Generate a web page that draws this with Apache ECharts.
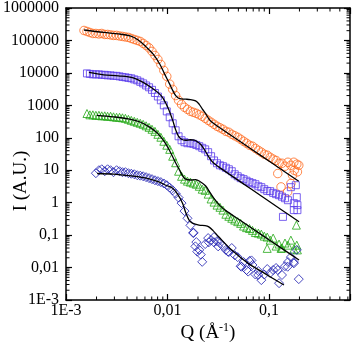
<!DOCTYPE html>
<html><head><meta charset="utf-8">
<script src="https://cdn.jsdelivr.net/npm/echarts@6/dist/echarts.min.js"></script>
<style>html,body{margin:0;padding:0;background:#fff}#c{width:357px;height:345px}</style>
</head><body><div id="c"></div>
<script>
// ---- axis ranges and tick labels ----
const Q_MIN = 0.001, Q_MAX = 0.63;
const I_MIN = 0.001, I_MAX = 1000000;
const qTickLabels = {'-3':'1E-3','-2':'0,01','-1':'0,1'};
const iTickLabels = {'6':'1000000','5':'100000','4':'10000','3':'1000','2':'100','1':'10','0':'1','-1':'0,1','-2':'0,01','-3':'1E-3'};

// ---- measured Q grid (Å^-1) shared by the four curves ----
const qGrid = [0.00161,0.00172,0.00184,0.00197,0.00211,0.00225,0.00241,0.00257,0.00275,0.00294,0.00315,0.00337,0.0036,0.00385,0.00412,0.0044,0.00471,0.00504,
0.00539,0.00576,0.00616,0.00659,0.00704,0.00753,0.00805,0.00861,0.00921,0.00985,0.01053,0.01126,0.01204,0.01287,
0.01377,0.01472,0.01574,0.01684,0.018,0.01925,0.02059,0.02201,0.02354,0.02518,0.02692,0.02879,0.03079,0.03293,
0.03521,0.03765,0.04027,0.04305,0.04604,0.04924,0.05266,0.0563,0.06021,0.06438,0.06886,0.07362,0.07873,0.08418,
0.09003,0.09627,0.1029,0.1101,0.1177,0.1259,0.1346,0.144,0.154,0.1646,0.1761,0.1883];

// ---- orange circles ----
const orangeI = [189000,176000,164000,164000,159000,164000,153000,153000,148000,143000,143000,137000,133000,128000,124000,115000,107000,100000,
93000,81000,70000,59000,46000,34500,26000,18200,11900,7800,4500,3100,2000,1430,
1070,870,753,654,609,567,510,459,398,345,300,260,226,203,
183,158,148,128,115,104,90,78,68,59,55,47,41,36,
31,29,25,22,20,16.4,16.4,13.3,17.6,14.2,17.6,15.3];
const orangeExtraQ = [0.001505,0.1317,0.153,0.1646,0.178,0.191,0.1223,0.171,0.197];
const orangeExtraI = [203000,3.06,2.15,3.9,10,8.9,7.9,7.0,14.2];

// ---- purple squares ----
const purpleI = [9650,9300,9000,9000,9000,8700,8700,8400,8400,8100,8100,7800,7500,7300,7000,6800,6300,5900,
5300,4750,4100,3600,3000,2400,1870,1430,1000,650,430,280,170,111,
84,73,68,68,65,60,55,49,44,36,27,20,16.4,14.2,
13.3,11.9,10.7,9.3,7.5,6.5,5.7,5.3,4.75,4.3,4.0,3.7,3.2,3.0,
2.6,2.3,2.26,2.0,1.83,1.7,1.53,1.37,1.19,3.0,0.965,1.48];
const purpleExtraQ = [0.1376,0.191,0.1842,0.1761,0.191];
const purpleExtraI = [0.365,0.588,3.45,0.59,0.84];

// ---- green triangles ----
const greenI = [560,510,510,492,492,475,475,460,460,443,428,428,413,398,371,345,322,300,
280,260,234,210,183,158,128,104,78,59,44,27,17,9.3,
6.5,5.3,4.6,4.3,4.0,3.7,3.2,2.6,2.4,1.83,1.3,1.04,0.84,0.72,
0.59,0.44,0.38,0.33,0.29,0.26,0.23,0.19,0.17,0.16,0.14,0.12,0.115,0.107,
0.093,0.087,0.07,0.081,0.046,0.053,0.04,0.057,0.049,0.07,0.037,0.049];
const greenExtraQ = [0.1866,0.191,0.0962,0.1316];
const greenExtraI = [0.203,0.035,0.039,0.039];

// ---- navy diamonds (start at 4th grid point) ----
const navyI = [8.1,10,10.7,9.3,10.7,10,8.7,10,9.3,8.7,8.7,8.1,7.8,7.5,7.0,
6.8,6.5,6.1,5.7,5.3,4.9,4.6,4.3,3.9,3.45,2.9,2.4,1.9,1.43,
0.97,0.55,0.33,0.2,0.115,0.061,0.035,0.015,0.053,0.081,0.07,0.087,0.065,0.057,
0.046,0.035,0.03,0.04,0.024,0.021,0.011,0.0148,0.0084,0.016,0.012,0.0061,0.0078,0.0041,
0.0061,0.009,0.0068,0.0084,0.0097,0.0033,0.0059,0.011,0.0148,0.021,0.0148,0.035];
const navyExtraQ = [0.018,0.01968,0.0395,0.05384,0.0673,0.0625,0.0785,0.1223,0.153,0.1761,0.197,0.01885,0.0213,0.02557,0.0288,0.0316];
const navyExtraI = [0.12,0.031,0.031,0.0106,0.0166,0.0075,0.0059,0.0084,0.0106,0.0135,0.0044,0.045,0.025,0.06,0.06,0.045];

// ---- model fits (black lines) ----
const fitOrangeQ = [0.001505,0.002354,0.003293,0.004276,0.005148,0.006197,0.0072,0.008362,0.009414,0.010457,0.01126,0.01212,0.01317,0.01516,0.01684,0.01895,0.02059,0.02201,0.02371,0.02557,0.02753,0.03198,0.05384,0.08418,0.1316,0.1969];
const fitOrangeI = [210000,176300,158500,137500,103600,62200,38400,19150,8990,4656,2894,1960,1608,1552,1497,1375,1073,780,567,384,300,215,71.2,27.7,10.73,4.59];
const fitPurpleQ = [0.001683,0.002354,0.003293,0.004604,0.005759,0.0072,0.00823,0.009003,0.01007,0.01126,0.01204,0.01287,0.01377,0.01505,0.01684,0.01841,0.01968,0.0212,0.02302,0.02557,0.02815,0.03198,0.05384,0.08418,0.1316,0.1982];
const fitPurpleI = [10360,8680,8085,7017,5100,3260,2340,1701,868,345,176,111,89.9,83.8,86.8,85,75.3,63.1,44.3,25.6,17.2,12.7,4.15,1.60,0.618,0.258];
const fitGreenQ = [0.002013,0.002944,0.004118,0.005385,0.00673,0.0077,0.00842,0.009414,0.010457,0.01126,0.01217,0.01317,0.01408,0.01516,0.01684,0.01895,0.02105,0.02371,0.02633,0.02964,0.03293,0.03706,0.05384,0.08418,0.1316,0.1982];
const fitGreenI = [492,443,384,306,210,153,115,72.7,41.3,26,15.85,10,6.77,5.29,5.0,5.1,4.43,3.33,2.03,1.19,0.8085,0.588,0.268,0.1036,0.0404,0.017];
const fitNavyQ = [0.002026,0.002944,0.004604,0.006467,0.008362,0.009627,0.01126,0.01259,0.01408,0.01516,0.01635,0.0176,0.02045,0.02354,0.02557,0.02815,0.03198,0.04305,0.06253,0.09065,0.1408];
const fitNavyI = [7.92,7.53,6.54,5.48,4.27,3.45,2.79,1.83,0.965,0.492,0.289,0.234,0.203,0.196,0.18,0.1376,0.0887,0.0345,0.01347,0.00663,0.00289];

// ---- build ----
function pairs(q, i) { return q.map((v, k) => [v, i[k]]); }
const FONT = 'Liberation Serif, Times New Roman, serif';
function decadeLabel(map) {
  return function (v) {
    const e = Math.log10(v), r = Math.round(e);
    return Math.abs(e - r) < 1e-6 ? (map[String(r)] || '') : '';
  };
}
function scatter(q, i, symbol, size, color) {
  return { type: 'scatter', data: pairs(q, i), symbol: symbol, symbolSize: size, z: 2,
    itemStyle: { color: 'rgba(0,0,0,0)', borderColor: color, borderWidth: 1 }, silent: true };
}
function fit(q, i) {
  return { type: 'line', data: pairs(q, i), symbol: 'none', smooth: 0.35, z: 5,
    lineStyle: { color: '#000', width: 1.3 }, silent: true };
}
const xMinor = [], yMinor = [];
for (let d = -3; d <= -1; d++) for (let m = 2; m <= 9; m++) { const v = m * Math.pow(10, d); if (v < Q_MAX) xMinor.push(v); }
for (let d = -3; d <= 5; d++) for (let m = 2; m <= 9; m++) yMinor.push(m * Math.pow(10, d));
const MINOR = 3.5;
const tickStyle = { stroke: '#000', lineWidth: 1 };
function minorX(params, api) {
  const v = api.value(0);
  const b = api.coord([v, I_MIN]), t = api.coord([v, I_MAX]);
  return { type: 'group', children: [
    { type: 'line', shape: { x1: b[0], y1: b[1], x2: b[0], y2: b[1] - MINOR }, style: tickStyle },
    { type: 'line', shape: { x1: t[0], y1: t[1], x2: t[0], y2: t[1] + MINOR }, style: tickStyle }] };
}
function minorY(params, api) {
  const v = api.value(1);
  const l = api.coord([Q_MIN, v]), r = api.coord([Q_MAX, v]);
  return { type: 'group', children: [
    { type: 'line', shape: { x1: l[0], y1: l[1], x2: l[0] + MINOR, y2: l[1] }, style: tickStyle },
    { type: 'line', shape: { x1: r[0], y1: r[1], x2: r[0] - MINOR, y2: r[1] }, style: tickStyle }] };
}
const axisLine = { show: true, lineStyle: { color: '#000', width: 1.5 } };
const majorTick = { show: true, inside: true, length: 6, lineStyle: { color: '#000', width: 1.2 } };
const labelStyle = { fontFamily: FONT, fontSize: 16, color: '#000' };

const chart = echarts.init(document.getElementById('c'), null, { renderer: 'canvas' });
chart.setOption({
  animation: false,
  backgroundColor: '#fff',
  grid: { left: 62, right: 7, top: 7.5, bottom: 45, containLabel: false },
  xAxis: [
    { type: 'log', logBase: 10, min: Q_MIN, max: Q_MAX, position: 'bottom', axisLine: axisLine, axisTick: majorTick,
      splitLine: { show: false }, axisLabel: Object.assign({ margin: 3, formatter: decadeLabel(qTickLabels) }, labelStyle) },
    { type: 'log', logBase: 10, min: Q_MIN, max: Q_MAX, position: 'top', axisLine: axisLine, axisTick: majorTick,
      splitLine: { show: false }, axisLabel: { show: false } }
  ],
  yAxis: [
    { type: 'log', logBase: 10, min: I_MIN, max: I_MAX, position: 'left', axisLine: axisLine, axisTick: majorTick,
      splitLine: { show: false }, axisLabel: Object.assign({ margin: 7, formatter: decadeLabel(iTickLabels) }, labelStyle) },
    { type: 'log', logBase: 10, min: I_MIN, max: I_MAX, position: 'right', axisLine: axisLine, axisTick: majorTick,
      splitLine: { show: false }, axisLabel: { show: false } }
  ],
  graphic: [
    { type: 'text', x: 21, y: 181, rotation: Math.PI / 2, style: { text: 'I (A.U.)', font: '19px ' + FONT, fill: '#000', align: 'center', verticalAlign: 'middle' } },
    { type: 'text', x: 208, y: 333, style: { text: 'Q (Å{sup|-1})', font: '19px ' + FONT, fill: '#000', align: 'center', verticalAlign: 'middle', lineHeight: 22,
      rich: { sup: { font: '12px ' + FONT, fill: '#000', verticalAlign: 'top', lineHeight: 22 } } } }
  ],
  series: [
    { type: 'custom', renderItem: minorX, data: xMinor.map(v => [v, 1]), silent: true, clip: false, z: 1 },
    { type: 'custom', renderItem: minorY, data: yMinor.map(v => [0.01, v]), silent: true, clip: false, z: 1 },
    scatter(qGrid.concat(orangeExtraQ), orangeI.concat(orangeExtraI), 'circle', 8.5, '#FF6A1F'),
    scatter(qGrid.concat(purpleExtraQ), purpleI.concat(purpleExtraI), 'rect', 7, '#5A3CEB'),
    scatter(qGrid.concat(greenExtraQ), greenI.concat(greenExtraI), 'triangle', 8, '#22A814'),
    scatter(qGrid.slice(3).concat(navyExtraQ), navyI.concat(navyExtraI), 'diamond', 9, '#1C1CB0'),
    fit(fitOrangeQ, fitOrangeI),
    fit(fitPurpleQ, fitPurpleI),
    fit(fitGreenQ, fitGreenI),
    fit(fitNavyQ, fitNavyI)
  ]
});
</script>
</body></html>
